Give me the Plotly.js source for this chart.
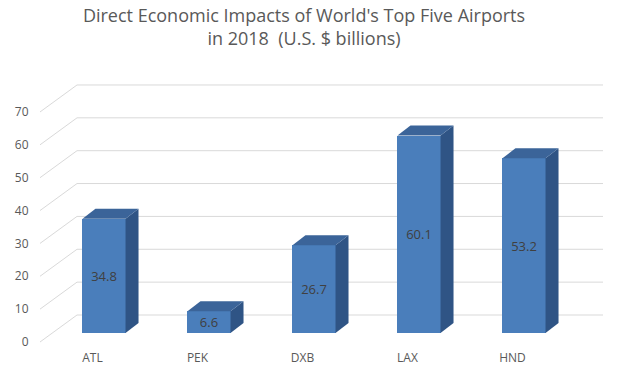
<!DOCTYPE html>
<html>
<head>
<meta charset="utf-8">
<script src="https://cdn.plot.ly/plotly-3.0.1.min.js"></script>
<style>html,body{margin:0;padding:0;background:#fff}#chart{width:630px;height:375px}</style>
</head>
<body>
<div id="chart"></div>
<script>
const categories = ["ATL", "PEK", "DXB", "LAX", "HND"];
const values = [34.8, 6.6, 26.7, 60.1, 53.2];
const yTicks = [0, 10, 20, 30, 40, 50, 60, 70];

const W = 630, H = 375;
const PX_PER_UNIT = 3.286;
const X0 = 51.5, X1 = 576.5;           // x axis domain in px
const BASE = 333;                        // bar baseline px
const Y_MIN = -5, Y_MAX = 80;            // axis range (room below 0 for floor lines)
const PX_PER_CAT = (X1 - X0) / categories.length;
const HALF = 0.205;                      // half bar width (category units)
const DX = 13 / PX_PER_CAT;              // depth offset x (units)
const DY = 10 / PX_PER_UNIT;             // depth offset y (units)
const LABEL_SHIFT = 11.5 / PX_PER_CAT;   // category labels sit left of bar centres
const FRONT = "#4a7ebb", TOP = "#3b6499", SIDE = "#2f5485";

const xs = categories.map((c, i) => i);
const traces = [];

// depth faces (side + top) per bar
xs.forEach((x, i) => {
  const v = values[i];
  traces.push({
    type: "scatter", mode: "lines", fill: "toself",
    x: [x + HALF, x + HALF + DX, x + HALF + DX, x + HALF, x + HALF],
    y: [0, DY, v + DY, v, 0],
    fillcolor: SIDE, line: {width: 0}, hoverinfo: "skip", showlegend: false
  });
  traces.push({
    type: "scatter", mode: "lines", fill: "toself",
    x: [x - HALF, x - HALF + DX, x + HALF + DX, x + HALF, x - HALF],
    y: [v, v + DY, v + DY, v, v],
    fillcolor: TOP, line: {width: 0}, hoverinfo: "skip", showlegend: false
  });
});

// front faces
traces.push({
  type: "bar", x: xs, y: values, width: 2 * HALF,
  marker: {color: FRONT, line: {width: 0}},
  text: values.map(v => v.toFixed(1)),
  textposition: "inside", insidetextanchor: "middle", textangle: 0,
  constraintext: "none",
  textfont: {family: "Open Sans, sans-serif", size: 13, color: "#404040"},
  hoverinfo: "skip", showlegend: false
});

// gridlines: back wall + left wall diagonals
const shapes = [];
yTicks.forEach(t => {
  shapes.push({
    type: "line", layer: "below", xref: "paper", yref: "y",
    ysizemode: "pixel", yanchor: t,
    x0: 77 / W, x1: 603 / W, y0: 18, y1: 18,
    line: {color: "#d9d9d9", width: 1}
  });
  shapes.push({
    type: "line", layer: "below", xref: "paper", yref: "y",
    ysizemode: "pixel", yanchor: t,
    x0: 40 / W, x1: 77 / W, y0: -9, y1: 18,
    line: {color: "#d9d9d9", width: 1}
  });
});

const yBottom = (H - BASE + Y_MIN * PX_PER_UNIT) / H;
const layout = {
  width: W, height: H,
  margin: {l: 0, r: 0, t: 0, b: 0},
  paper_bgcolor: "#fff", plot_bgcolor: "rgba(0,0,0,0)",
  font: {family: "Open Sans, sans-serif", color: "#595959"},
  title: {
    text: "Direct Economic Impacts of World's Top Five Airports<br>in 2018  (U.S. $ billions)",
    font: {family: "Open Sans, sans-serif", size: 18, color: "#595959"},
    x: 304 / W, xanchor: "center", xref: "paper",
    y: 1 - 22 / H, yanchor: "top", yref: "container"
  },
  xaxis: {
    domain: [X0 / W, X1 / W], range: [-0.5, categories.length - 0.5],
    tickvals: xs.map(x => x - LABEL_SHIFT), ticktext: categories,
    showgrid: false, zeroline: false, showline: false, ticks: "",
    tickfont: {size: 12, color: "#595959"}, fixedrange: true
  },
  yaxis: {
    domain: [yBottom, yBottom + (Y_MAX - Y_MIN) * PX_PER_UNIT / H], range: [Y_MIN, Y_MAX],
    tickvals: yTicks, showgrid: false, zeroline: false, showline: false, ticks: "",
    ticklabelshift: 9, ticklabelstandoff: 22,
    tickfont: {size: 12, color: "#595959"}, fixedrange: true
  },
  shapes: shapes,
  showlegend: false, bargap: 0
};

Plotly.newPlot("chart", traces, layout, {displayModeBar: false, staticPlot: true});
</script>
</body>
</html>
